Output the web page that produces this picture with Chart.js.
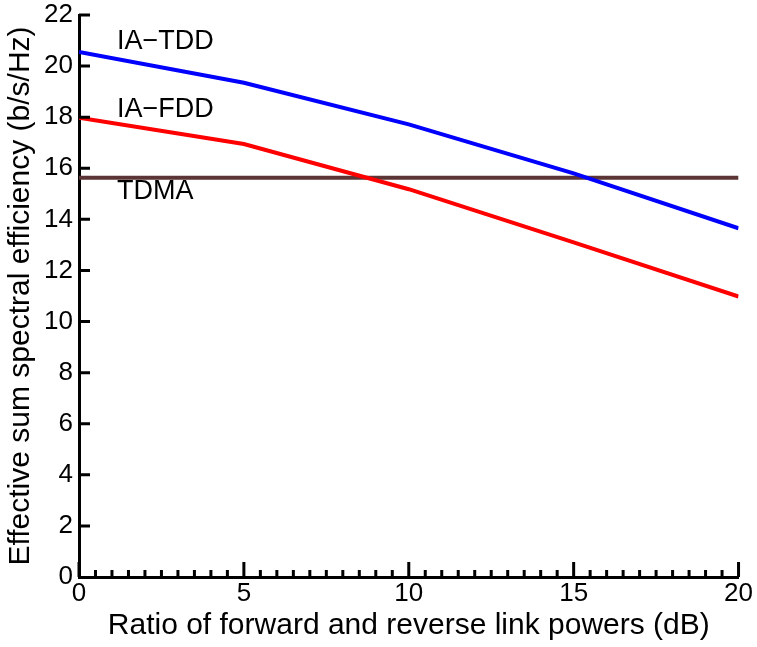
<!DOCTYPE html>
<html>
<head>
<meta charset="utf-8">
<script src="https://cdn.jsdelivr.net/npm/chart.js@4"></script>
<style>
  body { margin: 0; background: #fff; }
  #wrap { width: 757px; height: 647px; }
</style>
</head>
<body>
<div id="wrap"><canvas id="graph1"></canvas></div>
<script>
// values
var powerRatio = [0, 5, 10, 15, 20];
var iaTdd = [20.55, 19.35, 17.72, 15.8, 13.65];
var iaFdd = [17.98, 16.95, 15.18, 13.1, 10.98];
var tdma = [15.63, 15.63, 15.63, 15.63, 15.63];

var seriesNames = ['IA\u2212TDD', 'IA\u2212FDD', 'TDMA'];
var labelSpots = [[1.15, 20.95], [1.15, 18.3], [1.15, 15.1]];

var fontFam = '"Liberation Sans", Arial, Helvetica, sans-serif';

function toPoints(xs, ys) {
  let pts = [];
  for (let i = 0; i < xs.length; i++) {
    pts.push({x: xs[i], y: ys[i]});
  }
  return pts;
}

// inward ticks like the original figure + in-plot series labels
var decorPlugin = {
  id: 'decor',
  afterDraw: function(chart) {
    var ctx = chart.ctx;
    var xs = chart.scales.x, ys = chart.scales.y;
    var bottom = chart.chartArea.bottom, left = chart.chartArea.left;
    ctx.save();
    ctx.strokeStyle = '#000';
    ctx.lineWidth = 3;
    ctx.beginPath();
    for (let v = 0; v <= 20.001; v += 0.5) {
      let px = xs.getPixelForValue(v);
      let len = (Math.abs(v % 5) < 0.01) ? 15 : 7;
      ctx.moveTo(px, bottom);
      ctx.lineTo(px, bottom - len);
    }
    for (let v = 2; v <= 22; v += 2) {
      let py = ys.getPixelForValue(v);
      ctx.moveTo(left, py);
      ctx.lineTo(left + 11, py);
    }
    ctx.stroke();

    ctx.fillStyle = '#000';
    ctx.font = '27px ' + fontFam;
    ctx.textBaseline = 'middle';
    ctx.textAlign = 'left';
    for (let i = 0; i < seriesNames.length; i++) {
      ctx.fillText(seriesNames[i], xs.getPixelForValue(labelSpots[i][0]), ys.getPixelForValue(labelSpots[i][1]));
    }
    ctx.restore();
  }
};

var ctx = document.getElementById('graph1').getContext('2d');

var graph1 = new Chart(ctx, {
  type: 'line',
  data: {
    datasets: [{
      label: seriesNames[0],
      data: toPoints(powerRatio, iaTdd),
      borderColor: '#0000ff',
      borderWidth: 4,
      pointRadius: 0,
      tension: 0
    }, {
      label: seriesNames[1],
      data: toPoints(powerRatio, iaFdd),
      borderColor: '#ff0000',
      borderWidth: 4,
      pointRadius: 0,
      tension: 0
    }, {
      label: seriesNames[2],
      data: toPoints(powerRatio, tdma),
      borderColor: '#5b3535',
      borderWidth: 4,
      pointRadius: 0,
      tension: 0
    }]
  },
  options: {
    animation: false,
    responsive: true,
    maintainAspectRatio: false,
    layout: { padding: { left: 0, right: 17, top: 15, bottom: 0 } },
    plugins: {
      legend: { display: false },
      tooltip: { enabled: false }
    },
    scales: {
      x: {
        type: 'linear',
        min: 0,
        max: 20,
        grid: { display: false, drawTicks: false },
        border: { display: true, color: '#000', width: 3 },
        ticks: {
          stepSize: 5,
          color: '#000',
          padding: 4,
          font: { family: fontFam, size: 26, lineHeight: 1 }
        },
        title: {
          display: true,
          text: 'Ratio of forward and reverse link powers (dB)',
          color: '#000',
          padding: { top: 0, bottom: 3 },
          font: { family: fontFam, size: 30 }
        },
        afterFit: function(scale) { scale.height = 70; }
      },
      y: {
        min: 0,
        max: 22,
        grid: { display: false, drawTicks: false },
        border: { display: true, color: '#000', width: 3 },
        ticks: {
          stepSize: 2,
          color: '#000',
          padding: 6,
          font: { family: fontFam, size: 26, lineHeight: 1 }
        },
        title: {
          display: true,
          text: 'Effective sum spectral efficiency (b/s/Hz)',
          color: '#000',
          padding: { top: 3, bottom: 0 },
          font: { family: fontFam, size: 30 }
        },
        afterFit: function(scale) {
          scale.width = 79;
          scale.paddingTop = 0;
          scale.paddingBottom = 0;
        }
      }
    }
  },
  plugins: [decorPlugin]
});
</script>
</body>
</html>
